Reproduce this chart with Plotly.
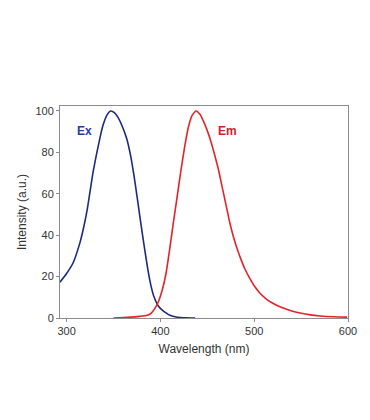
import plotly.graph_objects as go

ex_wl = [293, 300, 307, 314.2, 318.5, 322, 328.4, 335.5, 339, 343, 347, 351, 355, 359, 364, 368, 371.8, 375, 378, 381, 384, 387, 390, 393, 397.8, 403, 406.7, 410.2, 418, 425, 437]
ex_int = [17.3, 21.5, 26.7, 36.3, 44.3, 52.3, 70.8, 86.8, 93.3, 98, 100, 99.2, 96.8, 93, 86.8, 79, 69, 59, 49.5, 40, 31, 22.5, 15.5, 10.5, 5.8, 3.4, 2.3, 1.3, 0.4, 0.1, 0]

em_wl = [350, 365, 378, 386, 390, 394, 398, 402, 406, 410, 414, 418, 422, 426, 430, 434, 438, 442, 446, 450, 454, 458, 462, 466, 470, 474, 478, 482, 486, 490, 495, 500, 506, 512, 518, 525, 531, 540, 549, 560, 570, 585, 599]
em_int = [0, 0.3, 0.8, 1.3, 2.2, 4.5, 8, 13.5, 21.5, 33.5, 46.5, 59, 71.5, 83, 92.5, 98, 100, 98.5, 95, 90.5, 85, 78.5, 71.5, 63, 54.5, 46, 39, 33.2, 28.2, 23.8, 19.4, 15.6, 12.1, 9.5, 7.6, 5.9, 4.8, 3.4, 2.4, 1.5, 1, 0.6, 0.4]

x_ticks = [300, 400, 500, 600]
y_ticks = [0, 20, 40, 60, 80, 100]

ex_color = "#1f2a7c"
em_color = "#e3232b"
font_family = "Liberation Sans, Arial"

fig = go.Figure()
fig.add_trace(go.Scatter(x=ex_wl, y=ex_int, mode="lines", line=dict(color=ex_color, width=1.6, shape="spline", smoothing=0.5), showlegend=False, hoverinfo="skip"))
fig.add_trace(go.Scatter(x=em_wl, y=em_int, mode="lines", line=dict(color=em_color, width=1.6, shape="spline", smoothing=0.5), showlegend=False, hoverinfo="skip"))

fig.add_annotation(x=319.6, y=90.5, text="<b>Ex</b>", showarrow=False, font=dict(family=font_family, size=12, color="#2e3a9a"))
fig.add_annotation(x=471.7, y=90.5, text="<b>Em</b>", showarrow=False, font=dict(family=font_family, size=12, color="#d0222e"))

axis_common = dict(showgrid=False, zeroline=False, showline=True, linecolor="#8c8c8c", linewidth=1, mirror=True,
                   ticks="outside", ticklen=3, tickcolor="#8c8c8c",
                   tickfont=dict(family=font_family, size=11, color="#333333"))

fig.update_xaxes(range=[293, 600], tickvals=x_ticks, title=dict(text="Wavelength (nm)", font=dict(family=font_family, size=12, color="#333333"), standoff=8), **axis_common)
fig.update_yaxes(range=[0, 102.4], tickvals=y_ticks, title=dict(text="Intensity (a.u.)", font=dict(family=font_family, size=12, color="#333333"), standoff=6), **axis_common)

fig.update_layout(width=370, height=420, margin=dict(l=52, r=30, t=98, b=110),
                  paper_bgcolor="white", plot_bgcolor="white")

fig.write_html("out.html")
